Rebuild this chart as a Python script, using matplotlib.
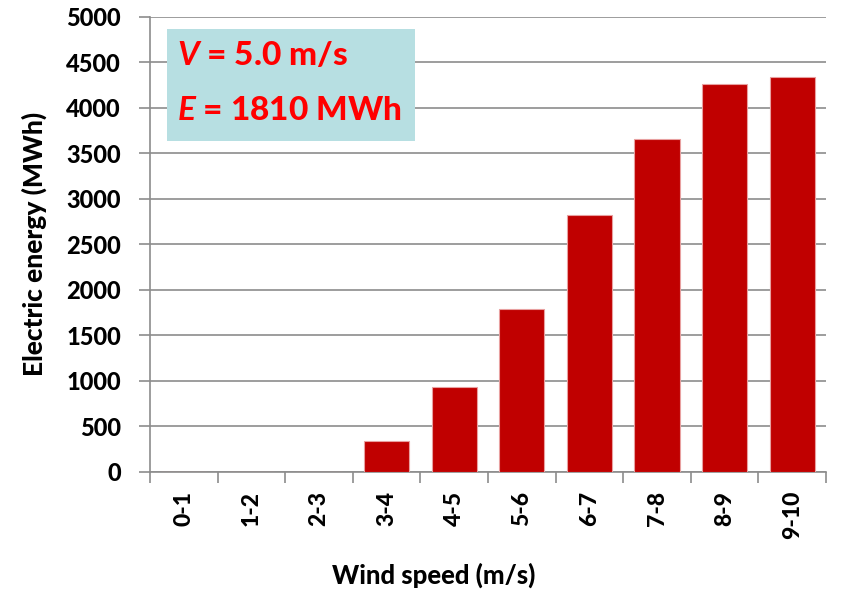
import os
import numpy as np
import matplotlib
matplotlib.use("Agg")
from matplotlib import pyplot as plt
from matplotlib import font_manager
from matplotlib.patches import Rectangle

# Data
speed_bins = ["0-1", "1-2", "2-3", "3-4", "4-5", "5-6", "6-7", "7-8", "8-9", "9-10"]
energy_mwh = [0, 0, 0, 340, 925, 1785, 2825, 3655, 4260, 4340]

# heaviest Lato face available (reference uses a heavy Calibri bold)
weight = 'bold'
for w, key in [(800, 'heavy'), (900, 'black')]:
    try:
        p = font_manager.findfont(font_manager.FontProperties(family='Lato', weight=w),
                                  fallback_to_default=False)
    except Exception:
        continue
    if key in os.path.basename(p).lower():
        weight = w
        break
plt.rcParams['font.family'] = ['Lato', 'DejaVu Sans']
plt.rcParams['font.weight'] = weight
plt.rcParams['mathtext.fontset'] = 'custom'
plt.rcParams['mathtext.bfit'] = 'Lato:bold:italic'

fig = plt.figure(figsize=(8.46, 5.90), dpi=100)
ax = fig.add_axes([0.1773, 0.2008, 0.7991, 0.7704])

x = np.arange(len(speed_bins))
ax.bar(x, energy_mwh, width=0.67, color='#C00000', edgecolor='#E8A0A0',
       linewidth=0.8, zorder=3)

ax.set_xlim(-0.5, len(speed_bins) - 0.5)
ax.set_ylim(0, 5000)
ax.set_yticks(np.arange(0, 5001, 500))
ax.yaxis.grid(True, color='#8C8C8C', linewidth=1.2, zorder=0)

# category labels centred, ticks on the boundaries
ax.set_xticks(x)
ax.set_xticklabels(speed_bins, rotation=90, fontsize=16.5, fontweight=weight)
ax.tick_params(axis='x', length=0, pad=14)
ax.set_xticks(np.arange(-0.5, len(speed_bins)), minor=True)
ax.tick_params(axis='x', which='minor', length=8, color='#8C8C8C', width=1.2)
ax.tick_params(axis='y', length=8, color='#8C8C8C', width=1.2, labelsize=17, pad=13)
for lab in ax.get_yticklabels():
    lab.set_fontweight(weight)

for s in ['top', 'right']:
    ax.spines[s].set_visible(False)
for s in ['left', 'bottom']:
    ax.spines[s].set_color('#8C8C8C')
    ax.spines[s].set_linewidth(1.2)

ax.set_xlabel("Wind speed (m/s)", fontsize=18.5, fontweight=weight, va='center')
ax.xaxis.set_label_coords(0.419, -0.229)
ax.set_ylabel("Electric energy (MWh)", fontsize=19, fontweight=weight, labelpad=14)

# annotation box
ax.add_patch(Rectangle((0.025, 0.727), 0.367, 0.247, transform=ax.transAxes,
                       facecolor='#B7DFE2', edgecolor='none', zorder=4, clip_on=False))
ax.text(0.040, 0.916, "$\\mathbfit{V}$ = 5.0 m/s", transform=ax.transAxes,
        fontsize=24, fontweight=weight, color='#FF0000', va='center', ha='left', zorder=5)
ax.text(0.040, 0.795, "$\\mathbfit{E}$ = 1810 MWh", transform=ax.transAxes,
        fontsize=24, fontweight=weight, color='#FF0000', va='center', ha='left', zorder=5)

fig.savefig("out.png", dpi=100)
